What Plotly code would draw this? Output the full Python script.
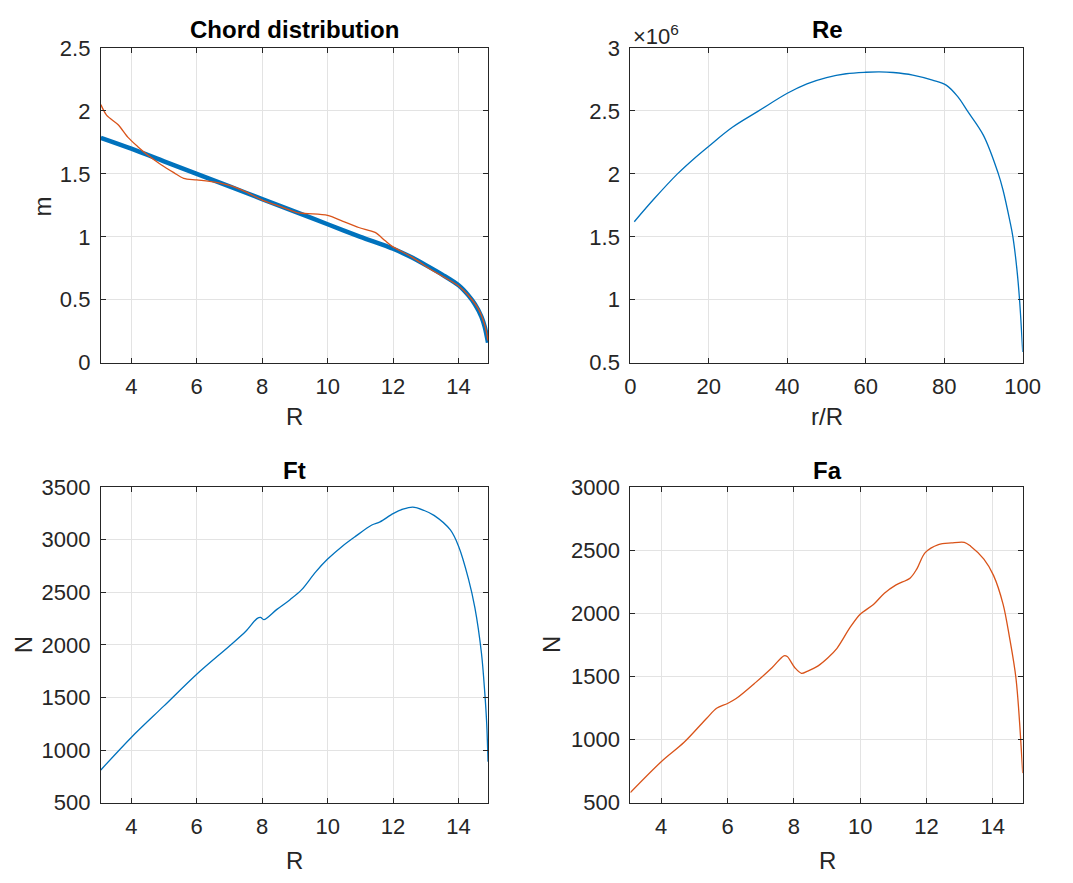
import plotly.graph_objects as go

# Chord distribution: design (thick) and fitted (thin) curves
chord_design_r = [3.07, 4, 5, 6, 7, 8, 9, 10, 11, 12, 12.5, 13, 13.5, 14, 14.3, 14.5, 14.7, 14.8, 14.9]
chord_design_c = [1.786, 1.70, 1.60, 1.50, 1.40, 1.30, 1.20, 1.10, 1.00, 0.905, 0.845, 0.775, 0.70, 0.615,
                  0.535, 0.465, 0.365, 0.285, 0.16]

chord_fit_r = [3.07, 3.25, 3.6, 3.9, 4.2, 4.5, 4.9, 5.3, 5.6, 6.0, 6.55, 7.0, 7.5, 8.0, 8.5, 9.1, 9.4, 10.0,
               10.45, 10.95, 11.45, 11.75, 11.95, 12.6, 13.1, 14.0, 14.3, 14.6, 14.8, 14.9]
chord_fit_c = [2.05, 1.965, 1.89, 1.79, 1.716, 1.65, 1.575, 1.51, 1.465, 1.452, 1.434, 1.408, 1.357, 1.292,
               1.246, 1.19, 1.184, 1.17, 1.125, 1.074, 1.035, 0.97, 0.928, 0.835, 0.748, 0.61, 0.534, 0.43,
               0.30, 0.175]

# Reynolds number along the blade (in millions)
re_rR = [1, 6, 12, 16, 20, 26, 32.7, 40, 45, 50, 55, 60, 63.5, 67, 72, 77, 80.5, 83.4, 85.9, 90, 93.8, 95,
         96.7, 97.5, 98.5, 99.2, 100]
re_mil = [1.62, 1.80, 2.0, 2.115, 2.22, 2.37, 2.50, 2.64, 2.715, 2.765, 2.795, 2.807, 2.81, 2.805, 2.785,
          2.745, 2.705, 2.615, 2.5, 2.306, 2.0, 1.87, 1.63, 1.5, 1.25, 1.0, 0.585]

# Tangential force
ft_r = [3.07, 4, 5, 6, 7, 7.5, 7.84, 7.95, 8.05, 8.45, 8.85, 9.2, 9.63, 10, 10.45, 10.85, 11.35, 11.6, 12,
        12.3, 12.6, 12.95, 13.25, 13.75, 14, 14.3, 14.5, 14.7, 14.8, 14.86, 14.9]
ft_n = [811, 1120, 1420, 1721, 1990, 2130, 2250, 2262, 2240, 2338, 2430, 2523, 2692, 2816, 2939, 3032, 3140,
        3170, 3248, 3290, 3310, 3278, 3232, 3093, 2939, 2631, 2353, 1921, 1551, 1250, 890]

# Axial force
fa_r = [3.07, 4, 4.69, 5.38, 5.67, 6.0, 6.26, 6.85, 7.34, 7.7, 7.8, 8.03, 8.23, 8.42, 8.72, 9.02, 9.3, 9.7,
        10.0, 10.4, 10.73, 11.07, 11.51, 11.71, 11.96, 12.36, 12.75, 13.14, 13.33, 13.73, 14.02, 14.31, 14.5,
        14.7, 14.9]
fa_n = [580, 824, 978, 1171, 1248, 1286, 1325, 1453, 1569, 1664, 1658, 1569, 1525, 1543, 1582, 1646, 1723,
        1890, 1993, 2070, 2160, 2224, 2281, 2353, 2481, 2545, 2558, 2563, 2532, 2430, 2301, 2071, 1813, 1480,
        734]

r_ticks = [4, 6, 8, 10, 12, 14]

BLUE = "#0072BD"
ORANGE = "#D95319"
INK = "#262626"
FONT = "Liberation Sans, Arial, sans-serif"


def smooth(color, width, s=0.9):
    return dict(color=color, width=width, shape="spline", smoothing=s)


fig = go.Figure()

fig.add_trace(go.Scatter(x=chord_design_r, y=chord_design_c, mode="lines",
                         line=smooth(BLUE, 4.5), xaxis="x", yaxis="y"))
fig.add_trace(go.Scatter(x=chord_fit_r, y=chord_fit_c, mode="lines",
                         line=smooth(ORANGE, 1.3, 0.8), xaxis="x", yaxis="y"))
fig.add_trace(go.Scatter(x=re_rR, y=re_mil, mode="lines", line=smooth(BLUE, 1.3, 1.0),
                         xaxis="x2", yaxis="y2"))
fig.add_trace(go.Scatter(x=ft_r, y=ft_n, mode="lines", line=smooth(BLUE, 1.3, 0.9),
                         xaxis="x3", yaxis="y3"))
fig.add_trace(go.Scatter(x=fa_r, y=fa_n, mode="lines", line=smooth(ORANGE, 1.3, 0.9),
                         xaxis="x4", yaxis="y4"))


def ax(domain, rng, anchor, **kw):
    d = dict(domain=domain, range=rng, anchor=anchor, showline=True, mirror="ticks", linecolor=INK,
             linewidth=1, ticks="inside", ticklen=5, tickcolor=INK, showgrid=True, gridcolor="#e3e3e3",
             gridwidth=1, zeroline=False, tickfont=dict(family=FONT, size=22, color=INK))
    d.update(kw)
    return d


XL = [0.0904, 0.4595]
XR = [0.5952, 0.9692]
YT = [0.5912, 0.9581]
YB = [0.0785, 0.4462]

fig.update_layout(
    width=1073, height=883, showlegend=False,
    margin=dict(l=0, r=0, t=0, b=0),
    paper_bgcolor="white", plot_bgcolor="white",
    xaxis=ax(XL, [3.07, 14.9], "y", tickvals=r_ticks, ticklabelstandoff=4),
    yaxis=ax(YT, [0, 2.5], "x", tickvals=[0, 0.5, 1, 1.5, 2, 2.5], ticklabelstandoff=5),
    xaxis2=ax(XR, [0, 100], "y2", tickvals=[0, 20, 40, 60, 80, 100], ticklabelstandoff=4),
    yaxis2=ax(YT, [0.5, 3], "x2", tickvals=[0.5, 1, 1.5, 2, 2.5, 3], ticklabelstandoff=5),
    xaxis3=ax(XL, [3.07, 14.9], "y3", tickvals=r_ticks, ticklabelstandoff=4),
    yaxis3=ax(YB, [500, 3500], "x3", tickvals=[500, 1000, 1500, 2000, 2500, 3000, 3500], ticklabelstandoff=5),
    xaxis4=ax(XR, [3.07, 14.9], "y4", tickvals=r_ticks, ticklabelstandoff=4),
    yaxis4=ax(YB, [500, 3000], "x4", tickvals=[500, 1000, 1500, 2000, 2500, 3000], ticklabelstandoff=5),
)

W, H = 1073, 883


def label(text, xp, yp, size=24, bold=False, angle=0, color=INK):
    fig.add_annotation(text=f"<b>{text}</b>" if bold else text, x=xp / W, y=1 - yp / H,
                       xref="paper", yref="paper", xanchor="center", yanchor="middle",
                       showarrow=False, textangle=angle, font=dict(family=FONT, size=size, color=color))


# Subplot titles
label("Chord distribution", 295, 18, size=24, bold=True, color="black")
label("Re", 840, 18, size=24, bold=True, color="black")
label("Ft", 295, 472, size=24, bold=True, color="black")
label("Fa", 840, 472, size=24, bold=True, color="black")

# Axis titles
label("R", 295, 416)
label("r/R", 840, 416)
label("R", 295, 873)
label("R", 840, 873)
label("m", 37, 200, angle=-90)
label("N", 18, 651, angle=-90)
label("N", 558, 651, angle=-90)

# Exponent of the Re axis
fig.add_annotation(text="×10<sup>6</sup>", x=639 / W, y=1 - 24 / H, xref="paper", yref="paper",
                   xanchor="left", yanchor="middle", showarrow=False,
                   font=dict(family=FONT, size=22, color=INK))

fig.write_html("out.html")
